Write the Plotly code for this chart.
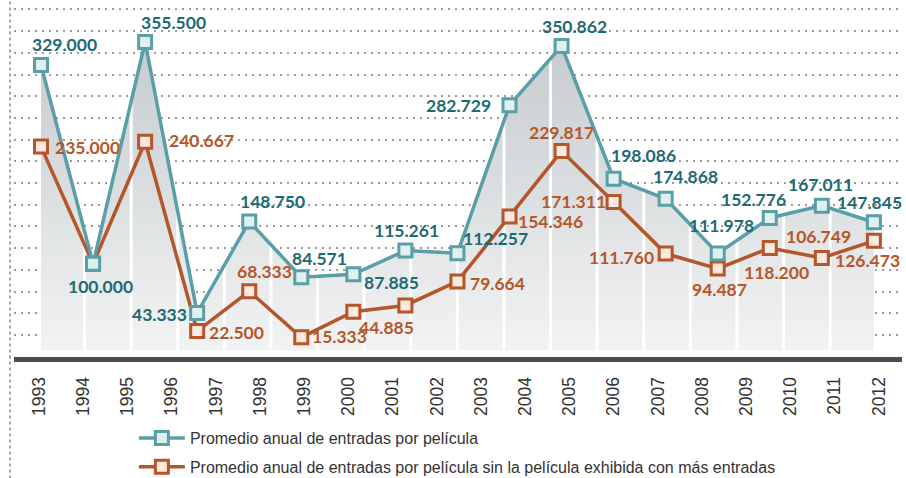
import numpy as np
import plotly.graph_objects as go

# ---------------- data ----------------
years = [str(y) for y in range(1993, 2013)]
point_index = list(range(17))
promedio = [329000, 100000, 355500, 43333, 148750, 84571, 87885, 115261, 112257,
            282729, 350862, 198086, 174868, 111978, 152776, 167011, 147845]
promedio_sin = [235000, 100000, 240667, 22500, 68333, 15333, 44885, 52000, 79664,
                154346, 229817, 171311, 111760, 94487, 118200, 106749, 126473]
labelled_sin = [True, False, True, True, True, True, True, False, True,
                True, True, True, True, True, True, True, True]
serie_1 = "Promedio anual de entradas por película"
serie_2 = "Promedio anual de entradas por película sin la película exhibida con más entradas"

# ---------------- styles ----------------
TEAL_LINE = "#5a9ea8"
TEAL_FILL = "#dff0ee"
TEAL_TEXT = "#1d6a75"
ORNG_LINE = "#b4552a"
ORNG_FILL = "#fbe8df"
ORNG_TEXT = "#b5562b"
LABEL_FONT = "Lato"
LABEL_SIZE = 17.5

# label offsets in px (dx right, dy down)
teal_off = [(23, -21), (7, 23), (28, -20), (-38, 2), (23, -20), (18, -19), (38, 8),
            (1, -20), (38, -15), (-51, 0), (13, -20), (30, -23), (20, -22), (4, -28),
            (-16, -18), (-1, -21), (-4, -20)]
orng_off = [(46, 1), (0, 0), (56, -1), (39, 1), (15, -20), (38, -1), (33, 16), (0, 0),
            (40, 2), (41, 5), (0, -19), (-40, 0), (-44, 4), (2, 21), (7, 24), (-3, -21),
            (-6, 20)]


def es_fmt(v):
    return f"{v:,}".replace(",", ".")


fig = go.Figure()

# gray area under main series
fig.add_trace(go.Scatter(
    x=point_index, y=promedio, xaxis="x2", mode="none", fill="tozeroy",
    fillgradient=dict(type="vertical", colorscale=[[0, "#f2f3f3"], [1, "#c6cbce"]]),
    showlegend=False, hoverinfo="skip"))

# white vertical separators inside the area
stripe_x = np.linspace(0.836, 15.16, 17)
stripe_top = np.interp(stripe_x, point_index, promedio)
sx, sy = [], []
for xv, tv in zip(stripe_x, stripe_top):
    sx += [xv, xv, None]
    sy += [0, tv, None]
fig.add_trace(go.Scatter(x=sx, y=sy, xaxis="x2", mode="lines",
                         line=dict(color="white", width=3),
                         showlegend=False, hoverinfo="skip"))

# series lines
fig.add_trace(go.Scatter(
    x=point_index, y=promedio_sin, xaxis="x2", mode="lines+markers", name=serie_2,
    line=dict(color=ORNG_LINE, width=3.5),
    marker=dict(symbol="square", size=13, color=ORNG_FILL,
                line=dict(color=ORNG_LINE, width=3)),
    legend="legend2"))
fig.add_trace(go.Scatter(
    x=point_index, y=promedio, xaxis="x2", mode="lines+markers", name=serie_1,
    line=dict(color=TEAL_LINE, width=3.5),
    marker=dict(symbol="square", size=13, color=TEAL_FILL,
                line=dict(color=TEAL_LINE, width=3)),
    legend="legend"))

# invisible trace on the year axis so that the categories exist
fig.add_trace(go.Scatter(x=years, y=[None] * len(years), mode="markers",
                         showlegend=False, hoverinfo="skip"))

annotations = []
for i, v in enumerate(promedio):
    dx, dy = teal_off[i]
    annotations.append(dict(x=point_index[i], y=v, xref="x2", yref="y", text=es_fmt(v),
                            showarrow=False, xshift=dx, yshift=-dy,
                            font=dict(family=LABEL_FONT, size=LABEL_SIZE, color=TEAL_TEXT,
                                      weight=700)))
for i, v in enumerate(promedio_sin):
    if not labelled_sin[i]:
        continue
    dx, dy = orng_off[i]
    annotations.append(dict(x=point_index[i], y=v, xref="x2", yref="y", text=es_fmt(v),
                            showarrow=False, xshift=dx, yshift=-dy,
                            font=dict(family=LABEL_FONT, size=LABEL_SIZE, color=ORNG_TEXT,
                                      weight=700)))

fig.update_layout(
    width=906, height=478,
    margin=dict(l=14, r=4, t=0, b=121, autoexpand=False),
    paper_bgcolor="white", plot_bgcolor="white",
    xaxis=dict(type="category", categoryorder="array", categoryarray=years,
               range=[-0.565, 19.52], showgrid=False, zeroline=False,
               showline=True, linecolor="#474e54", linewidth=5,
               ticks="outside", ticklen=8, tickcolor="rgba(0,0,0,0)",
               tickangle=-90,
               tickfont=dict(family="Liberation Sans", size=17.5, color="#333333")),
    xaxis2=dict(overlaying="x", range=[-0.519, 16.54], visible=False),
    yaxis=dict(range=[-7370, 403900], tickvals=[18000 + 25000 * k for k in range(16)],
               showticklabels=False, showgrid=True, gridcolor="#9a9a9a", gridwidth=1.5,
               griddash="2px,5px", zeroline=False, showline=False, ticks=""),
    annotations=annotations,
    legend=dict(x=0.135, y=-0.227, xanchor="left", yanchor="middle", itemwidth=46,
                bgcolor="rgba(0,0,0,0)",
                font=dict(family="Liberation Sans", size=16, color="#333333")),
    legend2=dict(x=0.135, y=-0.308, xanchor="left", yanchor="middle", itemwidth=46,
                 bgcolor="rgba(0,0,0,0)",
                 font=dict(family="Liberation Sans", size=16, color="#333333")),
    shapes=[dict(type="line", xref="paper", yref="paper", x0=-0.0045, x1=-0.0045,
                 y0=-0.34, y1=1, line=dict(color="#8a8a8a", width=1.5, dash="dot"))],
    showlegend=True,
)

fig.write_html("out.html", config={"displayModeBar": False},
               post_script="document.body.style.margin='0';")
